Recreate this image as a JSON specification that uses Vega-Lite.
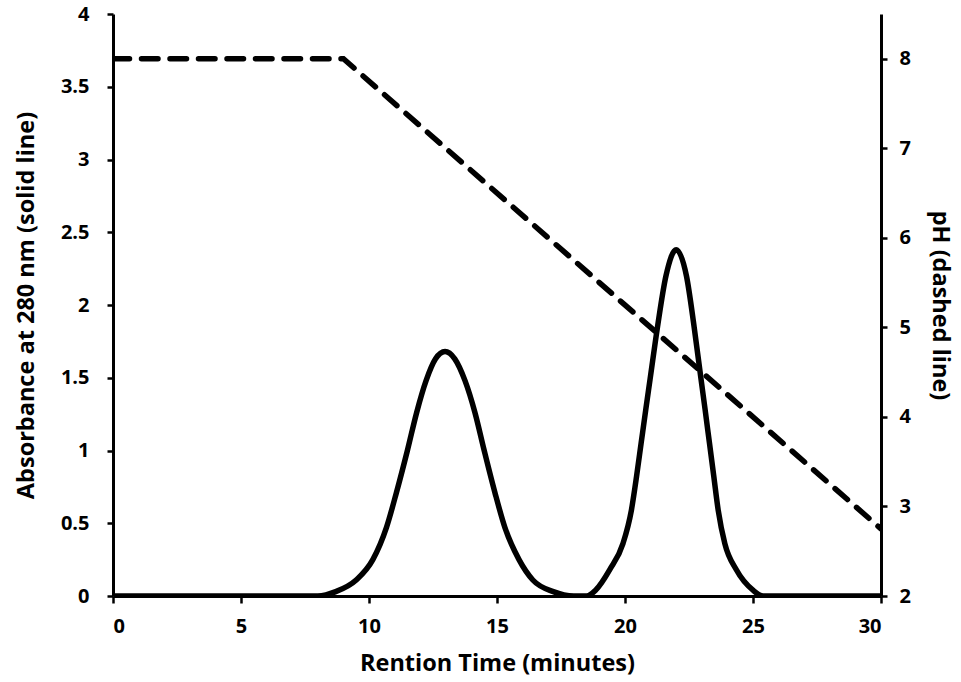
{
  "$schema": "https://vega.github.io/schema/vega-lite/v6.json",
  "autosize": {"type": "none"},
  "padding": {"left": 113, "top": 14, "right": 80, "bottom": 86},
  "width": 768,
  "height": 582,
  "background": "white",
  "config": {
    "view": {"stroke": null},
    "font": "Open Sans",
    "axis": {
      "grid": false,
      "domainColor": "black",
      "domainWidth": 3,
      "tickColor": "black",
      "tickWidth": 2.5,
      "tickSize": 6,
      "labelFont": "Open Sans",
      "labelFontWeight": "bold",
      "labelFontSize": 20,
      "labelColor": "black",
      "titleFont": "Open Sans",
      "titleFontWeight": "bold",
      "titleFontSize": 23.5,
      "titleColor": "black"
    }
  },
  "datasets": {
    "absorbance": [
      {"time": 0, "abs": 0},
      {"time": 8.0, "abs": 0},
      {"time": 8.7, "abs": 0.03},
      {"time": 9.5, "abs": 0.11},
      {"time": 10.15, "abs": 0.25},
      {"time": 10.68, "abs": 0.47},
      {"time": 11.07, "abs": 0.71},
      {"time": 11.5, "abs": 1.0},
      {"time": 11.86, "abs": 1.26},
      {"time": 12.23, "abs": 1.48},
      {"time": 12.6, "abs": 1.63},
      {"time": 12.97, "abs": 1.68},
      {"time": 13.35, "abs": 1.63},
      {"time": 13.75, "abs": 1.48},
      {"time": 14.14, "abs": 1.26},
      {"time": 14.5, "abs": 1.0},
      {"time": 14.92, "abs": 0.71},
      {"time": 15.31, "abs": 0.47},
      {"time": 15.86, "abs": 0.25},
      {"time": 16.4, "abs": 0.11},
      {"time": 17.2, "abs": 0.03},
      {"time": 18.0, "abs": 0},
      {"time": 18.5, "abs": 0},
      {"time": 18.85, "abs": 0.04},
      {"time": 19.4, "abs": 0.18},
      {"time": 19.92, "abs": 0.36},
      {"time": 20.25, "abs": 0.59},
      {"time": 20.45, "abs": 0.82},
      {"time": 20.63, "abs": 1.05},
      {"time": 20.81, "abs": 1.28},
      {"time": 20.98, "abs": 1.49},
      {"time": 21.27, "abs": 1.85},
      {"time": 21.6, "abs": 2.2},
      {"time": 22.0, "abs": 2.38},
      {"time": 22.4, "abs": 2.2},
      {"time": 22.7, "abs": 1.85},
      {"time": 22.97, "abs": 1.49},
      {"time": 23.13, "abs": 1.28},
      {"time": 23.3, "abs": 1.05},
      {"time": 23.47, "abs": 0.82},
      {"time": 23.64, "abs": 0.59},
      {"time": 23.9, "abs": 0.36},
      {"time": 24.35, "abs": 0.18},
      {"time": 25.0, "abs": 0.04},
      {"time": 25.4, "abs": 0},
      {"time": 30, "abs": 0}
    ],
    "ph": [
      {"time": 0, "pH": 8},
      {"time": 9, "pH": 8},
      {"time": 30, "pH": 2.75}
    ]
  },
  "layer": [
    {
      "data": {"name": "absorbance"},
      "mark": {"type": "line", "color": "black", "strokeWidth": 5.5, "interpolate": "monotone", "clip": true},
      "encoding": {
        "x": {
          "field": "time", "type": "quantitative",
          "scale": {"domain": [0, 30], "nice": false},
          "axis": {"values": [0, 5, 10, 15, 20, 25, 30], "title": "Rention Time (minutes)", "tickSize": 7, "labelPadding": 13, "titlePadding": 15}
        },
        "y": {
          "field": "abs", "type": "quantitative",
          "scale": {"domain": [0, 4], "nice": false},
          "axis": {"orient": "left", "values": [0, 0.5, 1, 1.5, 2, 2.5, 3, 3.5, 4], "format": "~g", "title": "Absorbance at 280 nm (solid line)", "labelPadding": 18, "titlePadding": 22}
        }
      }
    },
    {
      "data": {"name": "ph"},
      "mark": {"type": "line", "color": "black", "strokeWidth": 5.5, "strokeDash": [16.5, 12], "strokeCap": "round", "clip": true},
      "encoding": {
        "x": {"field": "time", "type": "quantitative"},
        "y": {
          "field": "pH", "type": "quantitative",
          "scale": {"domain": [2, 8.5], "nice": false},
          "axis": {"orient": "right", "values": [2, 3, 4, 5, 6, 7, 8], "format": "~g", "title": "pH (dashed line)", "labelPadding": 12, "titlePadding": 17}
        }
      }
    }
  ],
  "resolve": {"scale": {"y": "independent"}}
}
